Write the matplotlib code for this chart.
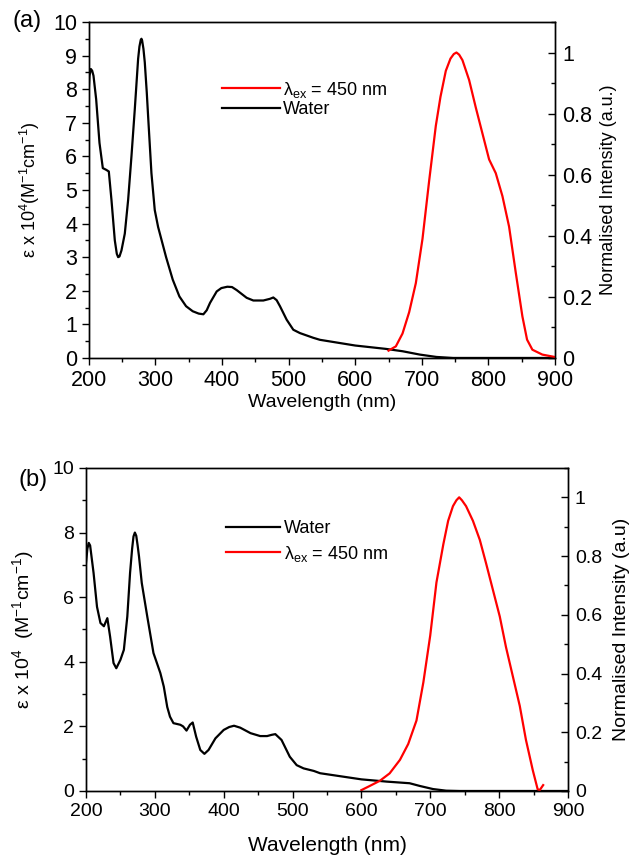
import numpy as np
import matplotlib
matplotlib.use("Agg")
import matplotlib.pyplot as plt
from matplotlib.ticker import MultipleLocator

plt.rcParams['font.family'] = ['Liberation Sans', 'DejaVu Sans']
plt.rcParams['mathtext.fontset'] = 'custom'
plt.rcParams['mathtext.rm'] = 'Liberation Sans'
plt.rcParams['mathtext.it'] = 'Liberation Sans'

# ---- panel (a) data ----
abs_a_wl = [200, 201, 203, 205, 207, 211, 216, 221, 226, 230, 234, 239, 242, 244, 246, 249,
            254, 259, 264, 269, 272, 274, 276, 278, 279, 280, 282, 284, 287, 289, 294, 299,
            304, 310, 316, 326, 336, 346, 356, 365, 372, 377, 382, 392, 399, 408, 415, 422,
            437, 447, 462, 472, 477, 482, 487, 497, 507, 517, 537, 547, 600, 646, 671, 697,
            722, 747, 800, 900]
abs_a_eps = [8.0, 8.4, 8.6, 8.55, 8.4, 7.7, 6.4, 5.65, 5.6, 5.55, 4.7, 3.5, 3.1, 3.0, 3.02, 3.2,
             3.7, 4.7, 6.0, 7.4, 8.3, 8.9, 9.27, 9.47, 9.5, 9.45, 9.2, 8.8, 7.9, 7.2, 5.5, 4.4,
             3.9, 3.45, 3.0, 2.33, 1.83, 1.54, 1.39, 1.32, 1.3, 1.42, 1.64, 1.98, 2.08, 2.12, 2.11, 2.02,
             1.79, 1.71, 1.71, 1.76, 1.8, 1.72, 1.54, 1.14, 0.84, 0.74, 0.6, 0.54, 0.37, 0.27, 0.2, 0.1,
             0.03, 0.0, 0.0, 0.0]

em_a_wl = [650, 661, 671, 681, 691, 701, 711, 721, 728, 736, 743, 748, 752, 756, 761, 771, 781,
           791, 801, 811, 821, 831, 841, 851, 858, 866, 881, 900]
em_a_int = [0.024, 0.038, 0.08, 0.15, 0.245, 0.39, 0.58, 0.76, 0.855, 0.94, 0.98, 0.995, 1.0,
            0.993, 0.975, 0.91, 0.82, 0.735, 0.65, 0.605, 0.53, 0.43, 0.28, 0.136, 0.06, 0.027,
            0.011, 0.003]

# ---- panel (b) data ----
abs_b_wl = [200, 202, 204, 206, 211, 216, 221, 226, 231, 235, 240, 244, 250, 255, 260, 264, 267,
            269, 271, 273, 275, 277, 281, 289, 298, 308, 313, 318, 322, 327, 337, 341, 346, 351,
            355, 360, 366, 372, 378, 388, 400, 408, 415, 424, 439, 453, 463, 470, 475, 484, 496,
            506, 516, 531, 540, 600, 637, 670, 685, 704, 723, 743, 800, 900]
abs_b_eps = [7.05, 7.5, 7.68, 7.6, 6.75, 5.7, 5.2, 5.1, 5.35, 4.78, 3.96, 3.8, 4.06, 4.37, 5.4,
             6.75, 7.5, 7.88, 8.0, 7.9, 7.6, 7.26, 6.44, 5.4, 4.27, 3.65, 3.23, 2.6, 2.3, 2.1, 2.05,
             2.0, 1.87, 2.05, 2.12, 1.68, 1.27, 1.15, 1.27, 1.63, 1.89, 1.98, 2.02, 1.96, 1.79, 1.7,
             1.7, 1.74, 1.76, 1.58, 1.06, 0.8, 0.7, 0.62, 0.55, 0.36, 0.29, 0.24, 0.155, 0.06, 0.01,
             0.0, 0.0, 0.0]

em_b_wl = [600, 612, 627, 641, 656, 668, 680, 690, 700, 709, 719, 726, 733, 738, 742, 746, 752,
           762, 772, 781, 791, 801, 810, 820, 830, 839, 849, 856, 859, 864]
em_b_int = [0.003, 0.017, 0.035, 0.06, 0.106, 0.16, 0.24, 0.37, 0.53, 0.71, 0.84, 0.92, 0.97,
            0.99, 1.0, 0.99, 0.97, 0.92, 0.855, 0.776, 0.685, 0.594, 0.49, 0.39, 0.29, 0.174,
            0.07, 0.006, 0.003, 0.02]

ylabel_left = r'$\epsilon$ x 10$^4$(M$^{-1}$cm$^{-1}$)'
ylabel_left_b = r'$\epsilon$ x 10$^4$  (M$^{-1}$cm$^{-1}$)'


def style_axes(ax, ax2, tick_size):
    ax.set_xlim(200, 900)
    ax.set_ylim(0, 10)
    ax2.set_ylim(0, 1.1)
    ax.xaxis.set_major_locator(MultipleLocator(100))
    ax.xaxis.set_minor_locator(MultipleLocator(50))
    ax2.yaxis.set_minor_locator(MultipleLocator(0.1))
    ax2.set_yticks([0, 0.2, 0.4, 0.6, 0.8, 1.0])
    ax2.set_yticklabels(['0', '0.2', '0.4', '0.6', '0.8', '1'])
    ax.tick_params(which='both', direction='out', labelsize=tick_size, top=False)
    ax.tick_params(which='major', length=5, width=1)
    ax.tick_params(which='minor', length=3, width=1)
    ax2.tick_params(which='both', direction='in', labelsize=tick_size)
    ax2.tick_params(which='major', length=5, width=1, pad=5)
    ax2.tick_params(which='minor', length=3, width=1)
    for a in (ax, ax2):
        for s in a.spines.values():
            s.set_linewidth(1)


fig = plt.figure(figsize=(6.3, 8.58), dpi=100)

# ---- (a) ----
ax = fig.add_axes([0.141, 0.5828, 0.740, 0.3916])
ax2 = ax.twinx()
l_abs, = ax.plot(abs_a_wl, abs_a_eps, color='black', lw=1.6)
l_em, = ax2.plot(em_a_wl, em_a_int, color='red', lw=1.6)
style_axes(ax, ax2, 15.5)
ax.yaxis.set_major_locator(MultipleLocator(1))
ax.yaxis.set_minor_locator(MultipleLocator(0.5))
ax.set_xlabel('Wavelength (nm)', fontsize=14, labelpad=2)
ax.set_ylabel(ylabel_left, fontsize=13, labelpad=8)
ax2.set_ylabel('Normalised Intensity (a.u.)', fontsize=13, labelpad=6)
ax2.legend([l_em, l_abs], [r'$\lambda_{\rm ex}$ = 450 nm', 'Water'], loc='upper left',
           bbox_to_anchor=(0.27, 0.85), frameon=False, fontsize=13, handlelength=3.2,
           handletextpad=0.2, labelspacing=0.1, borderaxespad=0)
fig.text(0.02, 0.975, '(a)', fontsize=17, va='center')

# ---- (b) ----
bx = fig.add_axes([0.1365, 0.0781, 0.765, 0.3765])
bx2 = bx.twinx()
m_abs, = bx.plot(abs_b_wl, abs_b_eps, color='black', lw=1.6)
m_em, = bx2.plot(em_b_wl, em_b_int, color='red', lw=1.6)
style_axes(bx, bx2, 14)
bx.yaxis.set_major_locator(MultipleLocator(2))
bx.yaxis.set_minor_locator(MultipleLocator(1))
bx.set_xlabel('Wavelength (nm)', fontsize=15, labelpad=12)
bx.set_ylabel(ylabel_left_b, fontsize=14, labelpad=12)
bx2.set_ylabel('Normalised Intensity (a.u)', fontsize=14, labelpad=8)
bx2.legend([m_abs, m_em], ['Water', r'$\lambda_{\rm ex}$ = 450 nm'], loc='upper left',
           bbox_to_anchor=(0.275, 0.86), frameon=False, fontsize=13, handlelength=3.0,
           handletextpad=0.2, labelspacing=0.35, borderaxespad=0)
fig.text(0.03, 0.44, '(b)', fontsize=17, va='center')

fig.savefig('out.png', dpi=100)
